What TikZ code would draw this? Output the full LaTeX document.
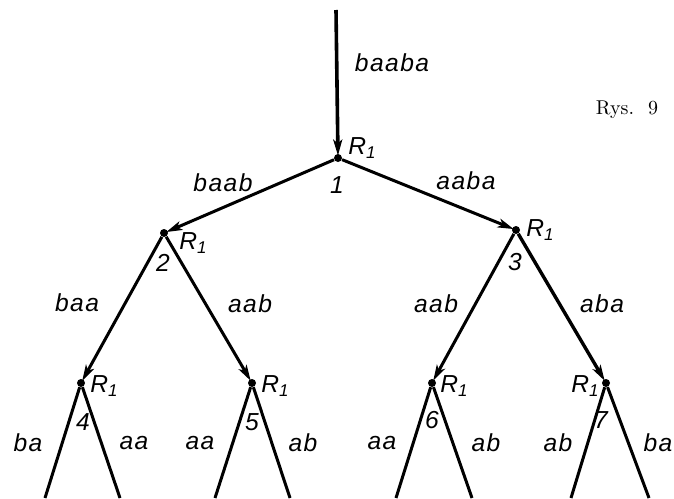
\documentclass[tikz,border=0pt]{standalone}
\usepackage{fontspec}
\newfontfamily\lab[LetterSpace=6]{Liberation Sans}
\usetikzlibrary{arrows.meta}
\tikzset{
  dot/.style={circle,fill=black,inner sep=0pt,minimum size=4pt},
  edge/.style={line width=1.5pt},
  arr/.style={edge,-{Stealth[length=8pt,width=4.5pt,inset=2pt]},shorten >=-1pt},
  txt/.style={font=\lab\fontsize{12.3}{14}\selectfont\itshape,inner sep=0pt},
  rl/.style={txt},
}
\newcommand{\Rone}{R\raisebox{-0.35ex}{\fontsize{8.5}{9}\selectfont 1}}
\begin{document}
\begin{tikzpicture}[x=0.5pt,y=-0.5pt]
\useasboundingbox (0,0) rectangle (674,498);
% nodes
\node[dot] (n1) at (338,158) {};
\node[dot] (n2) at (164,233) {};
\node[dot] (n3) at (516,230) {};
\node[dot] (n4) at (81,383) {};
\node[dot] (n5) at (252,383) {};
\node[dot] (n6) at (432,383) {};
\node[dot] (n7) at (606,383) {};
\coordinate (top) at (336,10);
\coordinate (b4l) at (45,498);
\coordinate (b4r) at (120,498);
\coordinate (b5l) at (215,498);
\coordinate (b5r) at (290,498);
\coordinate (b6l) at (396,498);
\coordinate (b6r) at (472,498);
\coordinate (b7l) at (571,498);
\coordinate (b7r) at (649,498);
% connectors
\draw[arr,line width=1.8pt] (top) -- (n1);
\draw[arr] (n1) -- (n2);
\draw[arr] (n1) -- (n3);
\draw[arr] (n2) -- (n4);
\draw[arr] (n2) -- (n5);
\draw[arr] (n3) -- (n6);
\draw[arr,line width=1.7pt] (n3) -- (n7);
\draw[edge] (n4) -- (b4l);
\draw[edge] (n4) -- (b4r);
\draw[edge] (n5) -- (b5l);
\draw[edge] (n5) -- (b5r);
\draw[edge] (n6) -- (b6l);
\draw[edge] (n6) -- (b6r);
\draw[edge] (n7) -- (b7l);
\draw[edge] (n7) -- (b7r);
% R1 labels
\node[rl] (r1) at (362,148) {\Rone};
\node[rl] (r2) at (193,243) {\Rone};
\node[rl] (r3) at (540,230) {\Rone};
\node[rl] (r4) at (104,386) {\Rone};
\node[rl] (r5) at (275,386) {\Rone};
\node[rl] (r6) at (454,386) {\Rone};
\node[rl] (r7) at (585,386) {\Rone};
% numbers
\node[txt] (k1) at (337,185) {1};
\node[txt] (k2) at (163,263) {2};
\node[txt] (k3) at (515,262) {3};
\node[txt] (k4) at (83,422) {4};
\node[txt] (k5) at (252,422) {5};
\node[txt] (k6) at (432,420) {6};
\node[txt] (k7) at (601,420) {7};
% edge labels
\node[txt] (l0) at (392,63) {baaba};
\node[txt] (l12) at (223,183) {baab};
\node[txt] (l13) at (466,181) {aaba};
\node[txt] (l24) at (77,303) {baa};
\node[txt] (l25) at (250,304) {aab};
\node[txt] (l36) at (436,304) {aab};
\node[txt] (l37) at (602,304) {aba};
\node[txt] (a4l) at (28,443) {ba};
\node[txt] (a4r) at (134,443) {aa};
\node[txt] (a5l) at (200,443) {aa};
\node[txt] (a5r) at (303,443) {ab};
\node[txt] (a6l) at (382,443) {aa};
\node[txt] (a6r) at (486,443) {ab};
\node[txt] (a7l) at (558,443) {ab};
\node[txt] (a7r) at (658,443) {ba};
% caption
\node[font=\fontsize{10}{12}\selectfont,inner sep=0pt] (cap) at (627,110) {Rys.\hspace{0.7em}9};
\end{tikzpicture}
\end{document}
